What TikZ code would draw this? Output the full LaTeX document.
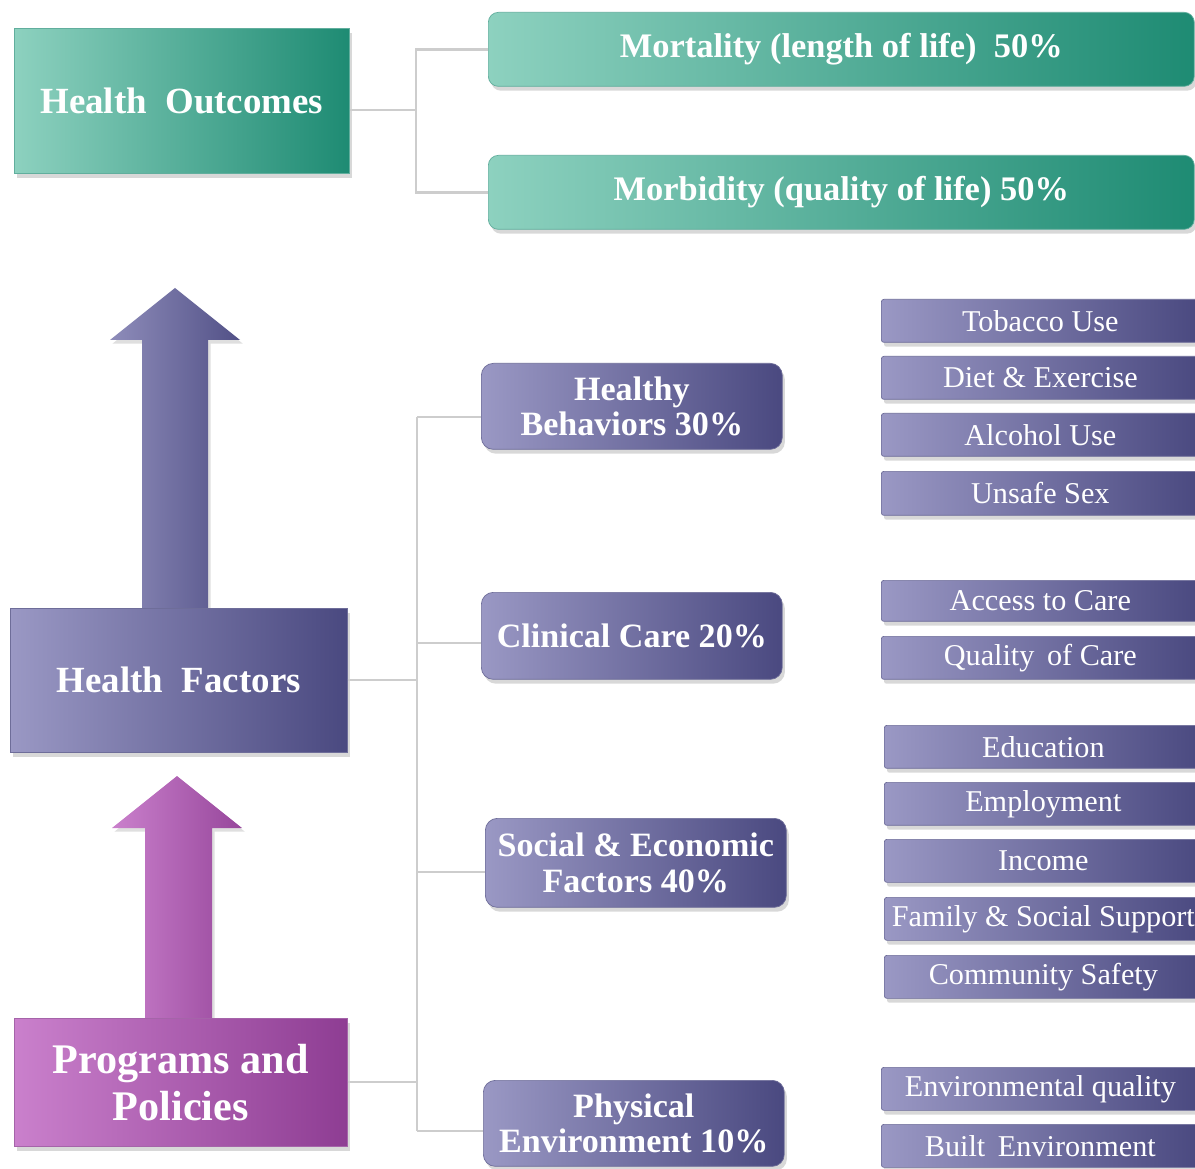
\documentclass[tikz,border=0pt]{standalone}
\usepackage{fontspec}
\setmainfont{Liberation Serif}
\usetikzlibrary{shadows,calc}
\definecolor{tealL}{HTML}{8DD1BF}
\definecolor{tealD}{HTML}{1E8B73}
\definecolor{purL}{HTML}{9A98C4}
\definecolor{purD}{HTML}{4A4980}
\definecolor{magL}{HTML}{CA80CC}
\definecolor{magD}{HTML}{8E3D93}
\definecolor{connC}{HTML}{CDCDCD}
\begin{document}
\begin{tikzpicture}[x=0.02cm,y=-0.02cm,
  base/.style={anchor=north west, inner sep=0pt, text=white, align=center,
    drop shadow={opacity=0.3,shadow xshift=1.5pt,shadow yshift=-2.5pt}},
  tealbox/.style={base, left color=tealL, right color=tealD, draw=tealD!70},
  purbox/.style={base, left color=purL, right color=purD, draw=purD!80},
  magbox/.style={base, left color=magL, right color=magD, draw=magD!80},
  bigtxt/.style={font=\bfseries\fontsize{21}{25}\selectfont},
  toptxt/.style={font=\bfseries\fontsize{19.6}{23}\selectfont},
  midtxt/.style={font=\bfseries\fontsize{19.4}{20}\selectfont},
  smalltxt/.style={font=\fontsize{17.2}{20}\selectfont},
  topbox/.style={tealbox, rounded corners=0.2cm, minimum width=14.12cm, minimum height=1.48cm, toptxt},
  midbox/.style={purbox, rounded corners=0.24cm, minimum width=6.02cm, midtxt},
  rbox/.style={purbox, rounded corners=0.05cm, minimum width=6.36cm, minimum height=0.86cm, smalltxt},
  conn/.style={draw=connC, line width=1.4pt},
  arrowshape/.style={drop shadow={opacity=0.25,shadow xshift=1.5pt,shadow yshift=-2pt}}
]
\useasboundingbox (0,0) rectangle (1195,1168);
\clip (0,0) rectangle (1195,1168);
\fill[white] (0,0) rectangle (1195,1168);

% big arrows
\shade[arrowshape, left color=purL!85!purD, right color=purD!90!purL]
  (142,608) -- (142,340) -- (110,340) -- (175,288) -- (240,340) -- (208,340) -- (208,608) -- cycle;
\shade[arrowshape, left color=magL, right color=magD!85!magL]
  (145,1018) -- (145,828) -- (112,828) -- (177,776) -- (242,828) -- (212,828) -- (212,1018) -- cycle;

% left boxes
\node[tealbox, bigtxt, minimum width=6.7cm, minimum height=2.9cm] (HO) at (14,28) {Health\ \ Outcomes};
\node[purbox, bigtxt, minimum width=6.74cm, minimum height=2.88cm] (HF) at (10,608) {Health\ \ Factors};
\node[magbox, font=\bfseries\fontsize{24}{27}\selectfont, minimum width=6.66cm, minimum height=2.56cm] (PP) at (14,1018) {Programs and\\Policies};

% outcome boxes
\node[topbox] (Mort) at (488,12) {Mortality (length of life) \ 50\%};
\node[topbox] (Morb) at (488,155) {Morbidity (quality of life) 50\%};

% factor boxes
\node[midbox, minimum height=1.72cm] (HB) at (481,363) {Healthy\\Behaviors 30\%};
\node[midbox, minimum height=1.74cm] (CC) at (481,592) {Clinical Care 20\%};
\node[midbox, minimum height=1.78cm] (SE) at (485,818) {Social \& Economic\\Factors 40\%};
\node[midbox, minimum height=1.72cm] (PE) at (483,1080) {Physical\\Environment 10\%};

% detail boxes
\node[rbox] (r1) at (881,299) {Tobacco Use};
\node[rbox] (r2) at (881,356) {Diet \& Exercise};
\node[rbox] (r3) at (881,413) {Alcohol Use};
\node[rbox, minimum height=0.88cm] (r4) at (881,471) {Unsafe Sex};
\node[rbox, minimum height=0.82cm] (r5) at (881,580) {Access to Care};
\node[rbox] (r6) at (881,636) {Quality\, of Care};
\node[rbox] (r7) at (884,725) {Education};
\node[rbox] (r8) at (884,782) {Employment};
\node[rbox] (r9) at (884,839) {Income};
\node[rbox] (r10) at (884,897) {Family \& Social Support};
\node[rbox] (r11) at (884,955) {Community Safety};
\node[rbox] (r12) at (881,1067) {Environmental quality};
\node[rbox] (r13) at (881,1124) {Built\, Environment};

% connectors
\coordinate (jo) at (416,110);
\draw[conn] (HO.east |- jo) -- (jo);
\draw[conn] (Mort.west) -| (jo) |- (Morb.west);

\coordinate (jHB) at (417,417);
\coordinate (jCC) at (417,643);
\coordinate (jHF) at (417,680);
\coordinate (jSE) at (417,872);
\coordinate (jPP) at (417,1082);
\coordinate (jPE) at (417,1131);
\draw[conn] (jHB) -- (jPE);
\draw[conn] (jHB) -- (HB.west |- jHB);
\draw[conn] (jCC) -- (CC.west |- jCC);
\draw[conn] (jSE) -- (SE.west |- jSE);
\draw[conn] (jPE) -- (PE.west |- jPE);
\draw[conn] (HF.east |- jHF) -- (jHF);
\draw[conn] (PP.east |- jPP) -- (jPP);
\end{tikzpicture}
\end{document}
